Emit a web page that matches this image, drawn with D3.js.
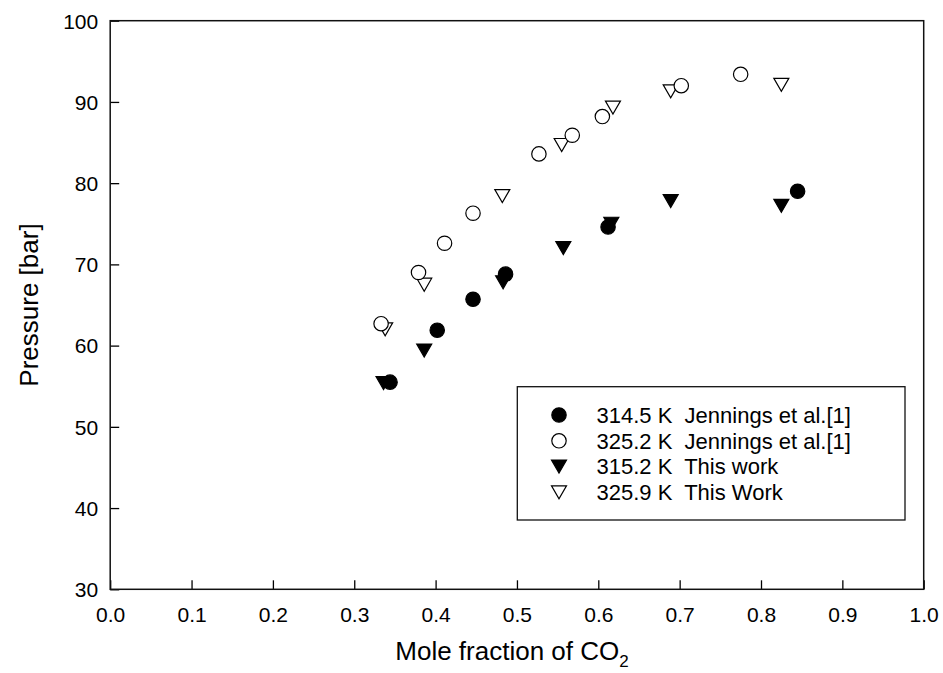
<!DOCTYPE html>
<html>
<head>
<meta charset="utf-8">
<script src="https://cdn.jsdelivr.net/npm/d3@7"></script>
<style>
    body { margin: 0; background: #fff; }
    svg text { font-family: "Liberation Sans", Arial, sans-serif; fill: #000; }
</style>
</head>
<body>
<div id="chart"></div>
<script>
// 314.5 K Jennings et al. (filled circles)
const jen314X = [0.344, 0.402, 0.446, 0.486, 0.612, 0.845];
const jen314P = [55.5, 61.9, 65.7, 68.8, 74.6, 79.0];
// 325.2 K Jennings et al. (open circles)
const jen325X = [0.333, 0.379, 0.411, 0.446, 0.527, 0.568, 0.605, 0.702, 0.775];
const jen325P = [62.7, 69.0, 72.6, 76.3, 83.6, 85.9, 88.2, 92.0, 93.4];
// 315.2 K this work (filled triangles)
const work315X = [0.336, 0.386, 0.483, 0.557, 0.616, 0.689, 0.825];
const work315P = [55.4, 59.4, 67.8, 72.0, 75.0, 77.8, 77.2];
// 325.9 K this work (open triangles)
const work326X = [0.338, 0.386, 0.482, 0.555, 0.618, 0.689, 0.825];
const work326P = [62.0, 67.5, 78.4, 84.7, 89.3, 91.3, 92.1];

const xTicks = [0, 0.1, 0.2, 0.3, 0.4, 0.5, 0.6, 0.7, 0.8, 0.9, 1.0];
const yTicks = [30, 40, 50, 60, 70, 80, 90, 100];

const legendLabels = [
    "314.5 K  Jennings et al.[1]",
    "325.2 K  Jennings et al.[1]",
    "315.2 K  This work",
    "325.9 K  This Work"
];

const width = 943, height = 673;
const margin = { left: 110.2, right: 943 - 923.7, top: 20.7, bottom: 673 - 589.3 };

const svg = d3.select("#chart").append("svg")
    .attr("width", width)
    .attr("height", height);

const x = d3.scaleLinear().domain([0, 1]).range([margin.left, width - margin.right]);
const y = d3.scaleLinear().domain([30, 100]).range([height - margin.bottom, margin.top]);

// axes with inward ticks
const xAxis = d3.axisBottom(x).tickValues(xTicks).tickSize(-9).tickPadding(17.5)
    .tickFormat(d3.format(".1f"));
const yAxis = d3.axisLeft(y).tickValues(yTicks).tickSize(-9).tickPadding(12)
    .tickFormat(d3.format("d"));

const gx = svg.append("g")
    .attr("transform", "translate(0," + y(30) + ")")
    .call(xAxis);
const gy = svg.append("g")
    .attr("transform", "translate(" + x(0) + ",0)")
    .call(yAxis);

[gx, gy].forEach(g => {
    g.select(".domain").remove();
    g.selectAll(".tick line").attr("stroke", "#000").attr("stroke-width", 1.3);
    g.selectAll(".tick text").style("font-size", "21px").attr("fill", "#000");
});
gx.selectAll(".tick text").attr("dy", "0.71em");
gy.selectAll(".tick text").attr("dy", "0.35em");

// frame
svg.append("rect")
    .attr("x", x(0))
    .attr("y", y(100))
    .attr("width", x(1) - x(0))
    .attr("height", y(30) - y(100))
    .attr("fill", "none")
    .attr("stroke", "#111")
    .attr("stroke-width", 1.5);

// axis titles
svg.append("text")
    .attr("transform", "translate(28.5," + (y(30) + y(100)) / 2 + ") rotate(-90)")
    .attr("text-anchor", "middle")
    .attr("dy", "0.35em")
    .style("font-size", "26px")
    .text("Pressure [bar]");

const xt = svg.append("text")
    .attr("x", 512)
    .attr("y", 660)
    .attr("text-anchor", "middle")
    .style("font-size", "26px");
xt.append("tspan").text("Mole fraction of CO");
xt.append("tspan").attr("dy", 7).style("font-size", "17px").text("2");

// marker drawing
const triPath = "M-7.5,-6.5L7.5,-6.5L0,6.5Z";

function drawMarker(g, kind, cx, cy) {
    if (kind === "circleFilled" || kind === "circleOpen") {
        g.append("circle")
            .attr("cx", cx)
            .attr("cy", cy)
            .attr("r", 7.2)
            .attr("fill", kind === "circleFilled" ? "#000" : "#fff")
            .attr("stroke", "#000")
            .attr("stroke-width", 1.2);
    } else {
        g.append("path")
            .attr("d", triPath)
            .attr("transform", "translate(" + cx + "," + cy + ")")
            .attr("fill", kind === "triFilled" ? "#000" : "#fff")
            .attr("stroke", "#000")
            .attr("stroke-width", 1.2);
    }
}

const series = [
    { kind: "circleFilled", xs: jen314X, ps: jen314P },
    { kind: "circleOpen", xs: jen325X, ps: jen325P },
    { kind: "triFilled", xs: work315X, ps: work315P },
    { kind: "triOpen", xs: work326X, ps: work326P }
];

const pts = svg.append("g");
// draw in the order that gives the same overlaps as the original
[series[3], series[1], series[2], series[0]].forEach(s => {
    s.xs.forEach((v, i) => drawMarker(pts, s.kind, x(v), y(s.ps[i])));
});

// legend
const legend = svg.append("g");
legend.append("rect")
    .attr("x", 517.3)
    .attr("y", 386.7)
    .attr("width", 905 - 517.3)
    .attr("height", 520 - 386.7)
    .attr("fill", "#fff")
    .attr("stroke", "#111")
    .attr("stroke-width", 1.3);

series.forEach((s, i) => {
    const ly = 415 + i * 25.8;
    drawMarker(legend, s.kind, 559, ly);
    legend.append("text")
        .attr("x", 596.5)
        .attr("y", ly)
        .attr("dy", "0.35em")
        .style("font-size", "22px")
        .style("white-space", "pre")
        .text(legendLabels[i]);
});
</script>
</body>
</html>
